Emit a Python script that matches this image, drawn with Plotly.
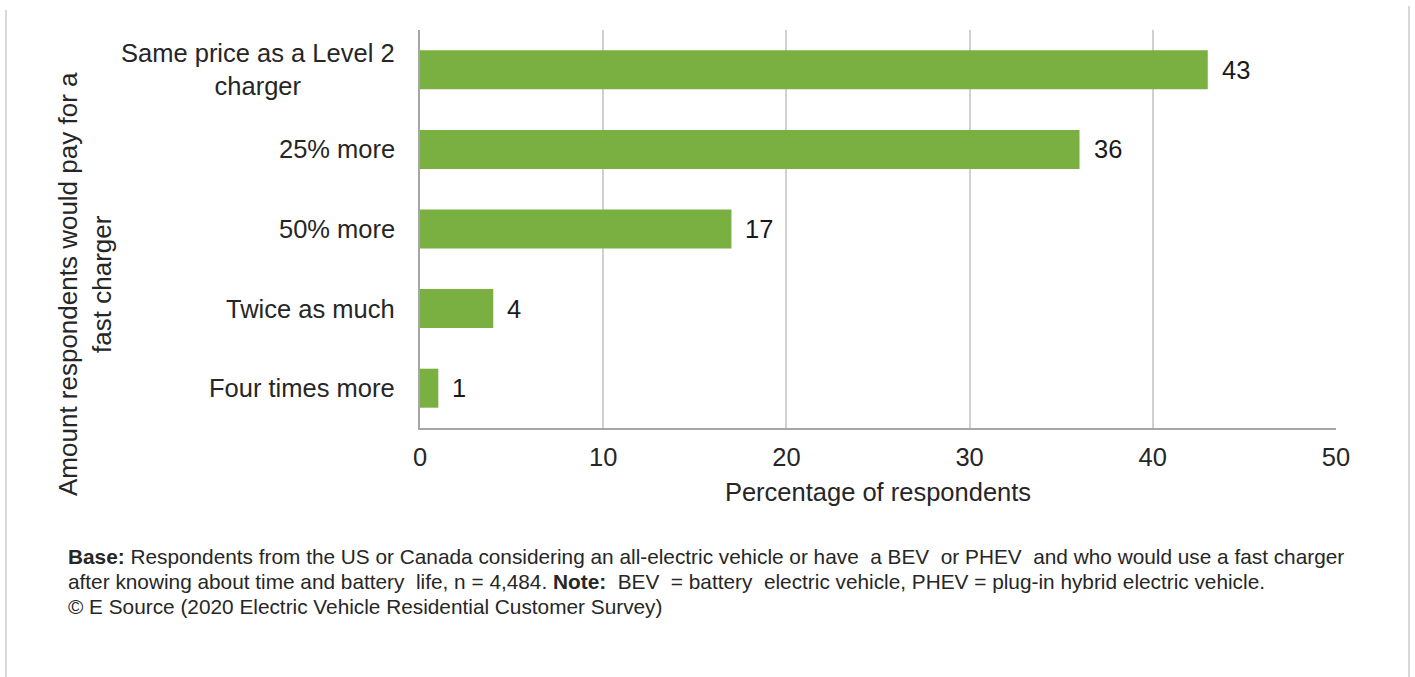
import plotly.graph_objects as go

categories = ["Same price as a Level 2<br>charger", "25% more", "50% more", "Twice as much", "Four times more"]
values = [43, 36, 17, 4, 1]
x_ticks = [0, 10, 20, 30, 40, 50]

W, H = 1415, 677
L, R, T, B = 420, 1415 - 1336, 30, 677 - 428
pw, ph = W - L - R, H - T - B

def px(x):
    return (x - L) / pw

def py(y):
    return (T + ph - y) / ph

FONT = "Liberation Sans, Arial, sans-serif"
FS = 25.5
GREEN = "#7AAF42"
TXT = "#262626"

fig = go.Figure()
fig.add_trace(go.Bar(
    y=categories, x=values, orientation="h",
    marker=dict(color=GREEN, line=dict(width=0)),
    cliponaxis=False,
))

# value labels
for c, v in zip(categories, values):
    fig.add_annotation(x=v, xref="x", y=c, yref="y", text=str(v), showarrow=False,
                       xanchor="left", xshift=12, font=dict(family=FONT, size=FS, color="#1a1a1a"))

# category labels as centered annotations
for c in categories:
    fig.add_annotation(x=px(397), xref="paper", y=c, yref="y", text=c,
                       showarrow=False, xanchor="right", align="center",
                       font=dict(family=FONT, size=FS, color=TXT))

fig.update_layout(
    width=W, height=H,
    margin=dict(l=L, r=R, t=T, b=B),
    paper_bgcolor="white", plot_bgcolor="white",
    bargap=0.51,
    showlegend=False,
    font=dict(family=FONT, color=TXT),
    xaxis=dict(range=[0, 50], tickvals=x_ticks, showgrid=True, gridcolor="#D0D0D0", gridwidth=1.5,
               zeroline=False, showline=True, linecolor="#A6A6A6", linewidth=2,
               ticks="", ticklabelstandoff=5,
               tickfont=dict(family=FONT, size=FS, color=TXT),
               title=dict(text="Percentage of respondents", standoff=14,
                          font=dict(family=FONT, size=FS, color=TXT)),
               fixedrange=True),
    yaxis=dict(categoryorder="array", categoryarray=categories[::-1], showticklabels=False,
               showgrid=False, zeroline=False, showline=True, linecolor="#A6A6A6", linewidth=2,
               ticks="", fixedrange=True),
)

# y-axis title
fig.add_annotation(x=px(85), xref="paper", y=py(284), yref="paper",
                   text="Amount respondents would pay for a<br>fast charger",
                   textangle=-90, showarrow=False, align="center",
                   xanchor="center", yanchor="middle",
                   font=dict(family=FONT, size=26, color=TXT))

# footnote
notes = [
    "<b>Base:</b> Respondents from the US or Canada considering an all-electric vehicle or have  a BEV  or PHEV  and who would use a fast charger",
    "after knowing about time and battery  life, n = 4,484. <b>Note:</b>  BEV  = battery  electric vehicle, PHEV = plug-in hybrid electric vehicle.",
    "© E Source (2020 Electric Vehicle Residential Customer Survey)",
]
for i, t in enumerate(notes):
    fig.add_annotation(x=px(66), xref="paper", y=py(556 + 25 * i), yref="paper", text=t,
                       showarrow=False, xanchor="left", yanchor="middle", align="left",
                       font=dict(family=FONT, size=20.8, color=TXT))

# outer frame side lines
for xx, y0 in [(6, 10), (1409, 6)]:
    fig.add_shape(type="line", xref="paper", yref="paper", x0=px(xx), x1=px(xx), y0=py(y0), y1=py(677),
                  line=dict(color="#D9D9D9", width=2))

fig.write_html("out.html")
